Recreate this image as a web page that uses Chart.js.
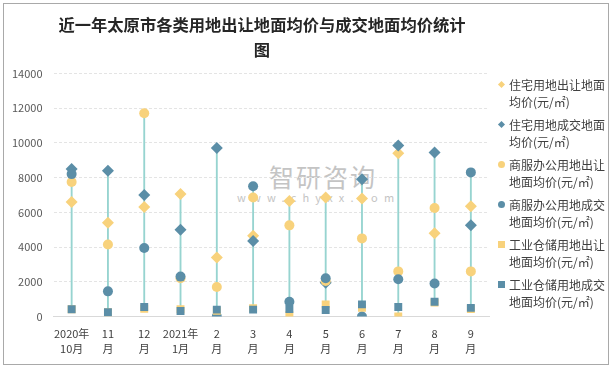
<!DOCTYPE html>
<html>
<head>
<meta charset="utf-8">
<script src="https://cdn.jsdelivr.net/npm/chart.js@4"></script>
<style>
  body { margin: 0; background: #fff; }
  #wrap { position: relative; width: 614px; height: 370px; background: #fff; overflow: hidden; font-family: "Noto Sans CJK SC", sans-serif; }
  #frame { position: absolute; left: 3px; top: 3px; width: 604px; height: 360px; border: 1px solid #a9a9a9; pointer-events: none; }
  #chart { position: absolute; left: 0; top: 0; }
  #mark { position: absolute; left: 237px; top: 162px; color: #c4c4c4; }
  #mark .big { font-size: 25px; letter-spacing: 2px; line-height: 28px; padding-left: 32px; }
  #mark .small { font-size: 11px; letter-spacing: 6.2px; line-height: 14px; }
  #legend { position: absolute; left: 497px; top: 76px; font-size: 12px; color: #404040; line-height: 17px; }
  #legend .item { position: relative; padding-left: 12px; height: 34px; margin-bottom: 6px; }
  #legend .sw { position: absolute; left: 0; top: 5px; }
</style>
</head>
<body>
<div id="wrap">
  <div id="mark"><div class="big">智研咨询</div><div class="small">www.chyxx.com</div></div>
  <canvas id="chart" width="614" height="370"></canvas>
  <div id="legend"></div>
  <div id="frame"></div>
</div>
<script>
// categories (two-line labels)
const categories = [
    ['2020年', '10月'], ['11', '月'], ['12', '月'], ['2021年', '1月'],
    ['2', '月'], ['3', '月'], ['4', '月'], ['5', '月'],
    ['6', '月'], ['7', '月'], ['8', '月'], ['9', '月']
];

// series values (元/㎡)
const resTransfer = [6600, 5400, 6300, 7050, 3400, 4650, 6650, 6850, 6800, 9400, 4800, 6350];
const resDeal = [8500, 8400, 7000, 5000, 9700, 4350, null, 1950, 7900, 9850, 9450, 5250];
const comTransfer = [7750, 4150, 11700, 2200, 1700, 6850, 5250, 2050, 4500, 2600, 6250, 2600];
const comDeal = [8200, 1450, 3950, 2300, 0, 7500, 850, 2200, 0, 2150, 1900, 8300];
const indTransfer = [420, 250, 450, 420, 330, 480, 80, 700, 500, 0, 800, 430];
const indDeal = [420, 250, 550, 320, 400, 400, 430, 380, 700, 550, 850, 500];

const seriesNames = [
    ['住宅用地出让地面', '均价(元/㎡)'],
    ['住宅用地成交地面', '均价(元/㎡)'],
    ['商服办公用地出让', '地面均价(元/㎡)'],
    ['商服办公用地成交', '地面均价(元/㎡)'],
    ['工业仓储用地出让', '地面均价(元/㎡)'],
    ['工业仓储用地成交', '地面均价(元/㎡)']
];

const yTicks = [0, 2000, 4000, 6000, 8000, 10000, 12000, 14000];

const YELLOW = '#f8d27c';
const BLUE = '#5b8ea7';
const STEM = '#97d4d0';

const allSeries = [resTransfer, resDeal, comTransfer, comDeal, indTransfer, indDeal];
const styles = [
    { style: 'rectRot', color: YELLOW, r: 6 },
    { style: 'rectRot', color: BLUE, r: 6 },
    { style: 'circle', color: YELLOW, r: 5 },
    { style: 'circle', color: BLUE, r: 5 },
    { style: 'rect', color: YELLOW, r: 5.6 },
    { style: 'rect', color: BLUE, r: 5.6 }
];

// high-low line per category, from the lowest to the highest point
const ranges = categories.map(function (_, i) {
    const vals = allSeries.map(s => s[i]).filter(v => v !== null);
    return [Math.min.apply(null, vals), Math.max.apply(null, vals)];
});

const datasets = [{
    type: 'bar',
    data: ranges,
    backgroundColor: STEM,
    barThickness: 1.2,
    order: 10
}];

allSeries.forEach(function (s, i) {
    datasets.push({
        type: 'line',
        label: seriesNames[i].join(''),
        data: s,
        showLine: false,
        pointStyle: styles[i].style,
        pointRadius: styles[i].r,
        pointHoverRadius: styles[i].r,
        pointBackgroundColor: styles[i].color,
        pointBorderColor: styles[i].color,
        pointBorderWidth: 0,
        order: 5 - i
    });
});

new Chart(document.getElementById('chart').getContext('2d'), {
    type: 'line',
    data: { labels: categories, datasets: datasets },
    options: {
        responsive: false,
        animation: false,
        layout: { padding: { left: 0, right: 90, top: 0, bottom: 4 } },
        plugins: {
            legend: { display: false },
            tooltip: { enabled: false },
            title: {
                display: true,
                text: ['近一年太原市各类用地出让地面均价与成交地面均价统计', '图'],
                color: '#262626',
                font: { family: '"Noto Sans CJK SC"', size: 16.3, weight: 'bold', lineHeight: 1.53 },
                padding: { top: 12.5, bottom: 11 }
            }
        },
        scales: {
            x: {
                offset: true,
                grid: { display: false, drawTicks: false },
                border: { color: '#d9d9d9', width: 1 },
                ticks: {
                    autoSkip: false,
                    maxRotation: 0,
                    padding: 9,
                    color: '#404040',
                    font: { family: '"Noto Sans CJK SC"', size: 11, lineHeight: 1.43 }
                }
            },
            y: {
                min: 0,
                max: 14000,
                afterFit: function (scale) { scale.width = 53.5; },
                afterBuildTicks: function (scale) { scale.ticks = yTicks.map(v => ({ value: v })); },
                grid: { color: '#e4e4e4', drawTicks: false },
                border: { display: false, dash: [3, 2] },
                ticks: {
                    padding: 11,
                    color: '#595959',
                    font: { family: '"Noto Sans CJK SC"', size: 11 },
                    callback: function (value) { return String(value); }
                }
            },
            // empty right axis, keeps room for the legend
            yRight: {
                position: 'right',
                afterFit: function (scale) { scale.width = 35; },
                grid: { display: false, drawTicks: false },
                border: { display: false },
                ticks: { display: false }
            }
        }
    }
});

// legend (two lines per item, marker by the first line)
const legend = document.getElementById('legend');
styles.forEach(function (st, i) {
    const item = document.createElement('div');
    item.className = 'item';
    const sw = document.createElement('span');
    sw.className = 'sw';
    if (st.style === 'rectRot') {
        sw.style.cssText += 'left:2px;top:6px;width:5px;height:5px;transform:rotate(45deg);background:' + st.color;
    } else if (st.style === 'circle') {
        sw.style.cssText += 'left:1px;top:5px;width:7px;height:7px;border-radius:50%;background:' + st.color;
    } else {
        sw.style.cssText += 'left:1px;top:5px;width:7px;height:7px;background:' + st.color;
    }
    item.appendChild(sw);
    item.appendChild(document.createTextNode(seriesNames[i][0]));
    item.appendChild(document.createElement('br'));
    item.appendChild(document.createTextNode(seriesNames[i][1]));
    legend.appendChild(item);
});
</script>
</body>
</html>
